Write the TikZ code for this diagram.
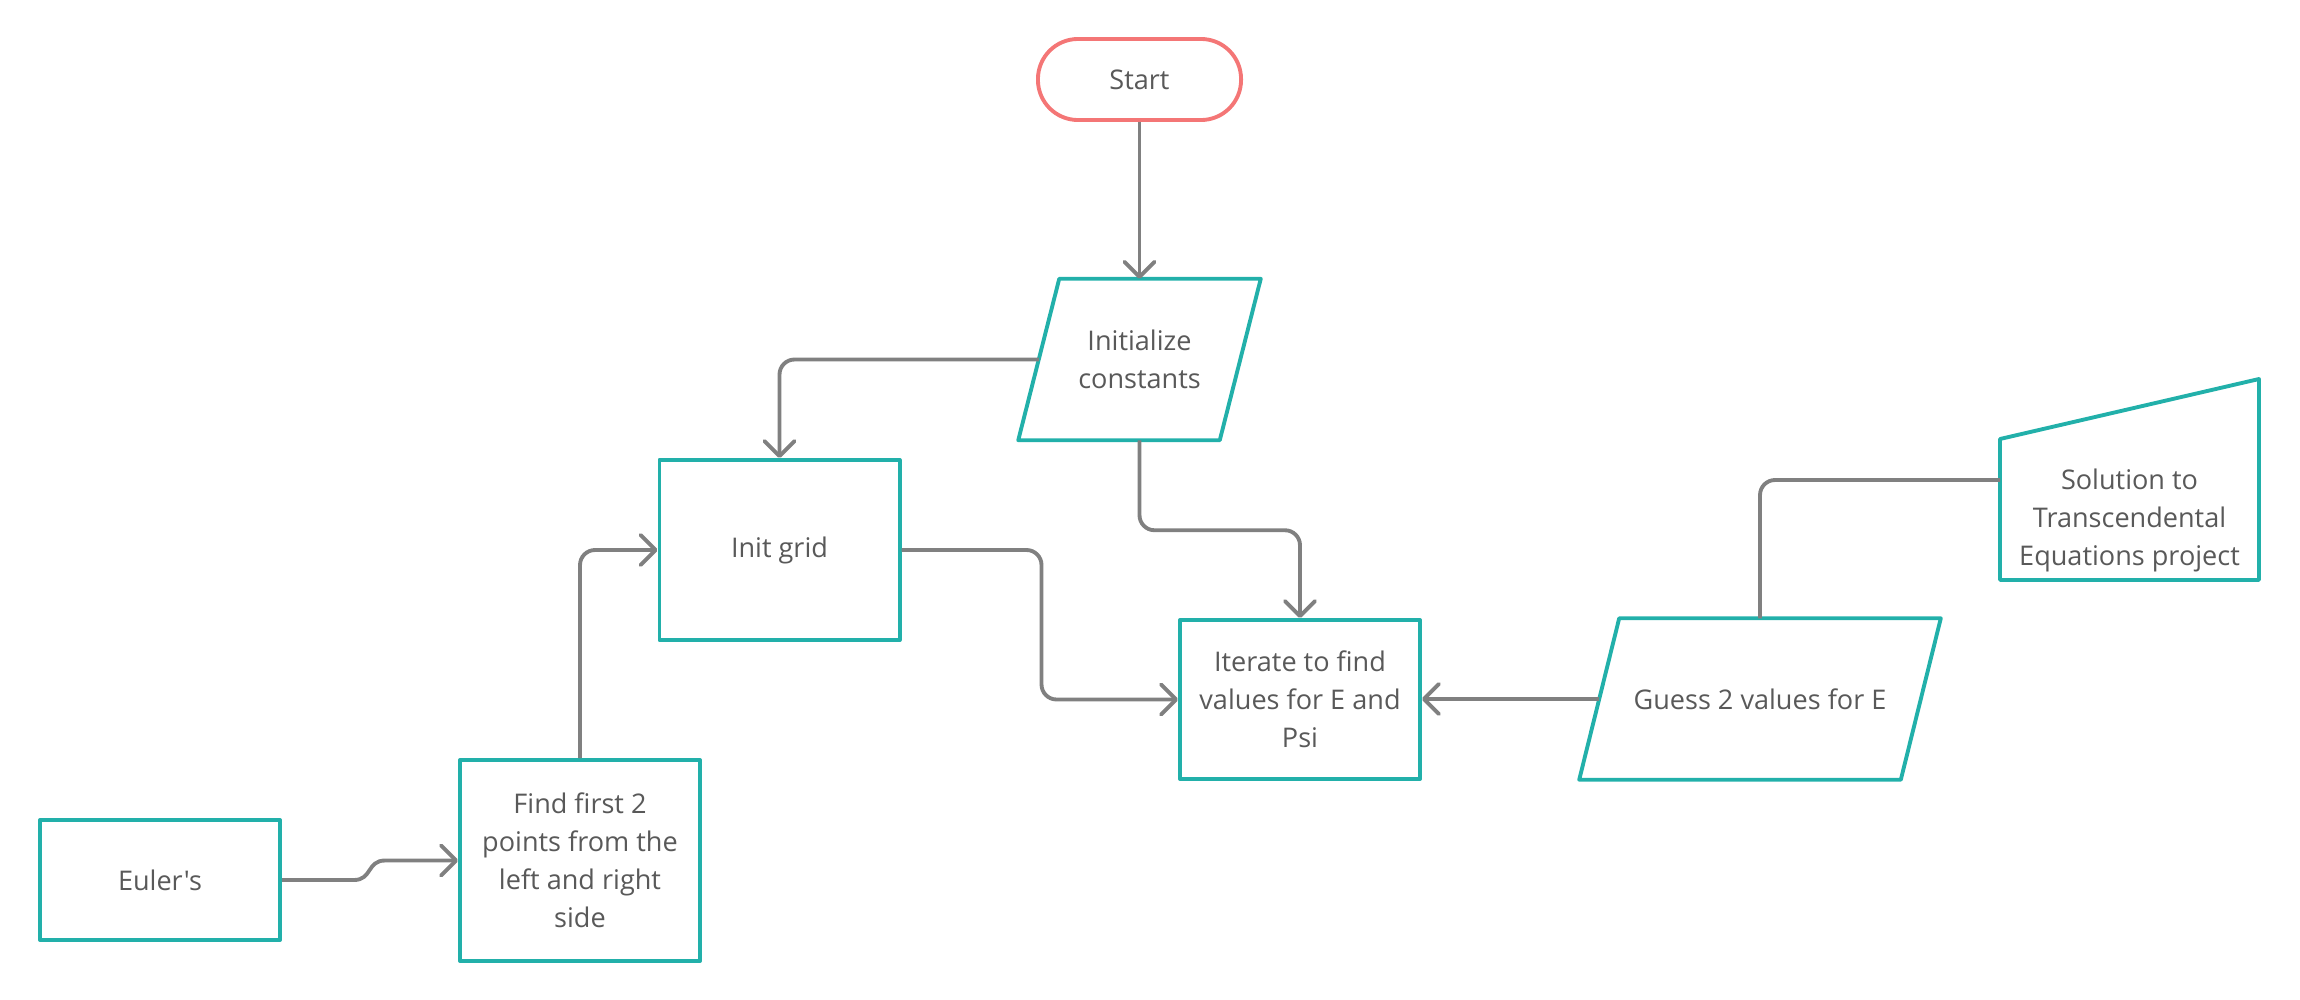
\documentclass[tikz,border=0pt]{standalone}
\usepackage{fontspec}
\newfontfamily\diagfont{Open Sans}
\usetikzlibrary{arrows.meta,calc}
\definecolor{tealc}{RGB}{34,176,170}
\definecolor{startc}{RGB}{244,118,118}
\definecolor{linec}{RGB}{128,128,128}
\definecolor{textc}{RGB}{89,89,89}

\begin{document}
\begin{tikzpicture}[x=0.01cm,y=-0.01cm,
  every node/.style={font=\diagfont\fontsize{7.7}{10.8}\selectfont, text=textc, align=center, inner sep=0pt},
  procbox/.style={draw=tealc, line width=1.1pt, line join=round},
  outline/.style={draw=tealc, line width=1.1pt, line join=round},
  conn/.style={draw=linec, line width=1.1pt, rounded corners=0.15cm},
  arr/.style={conn, -{Straight Barb[length=0.15cm,width=0.3cm,round]}},
]
\useasboundingbox (0,0) rectangle (2300,1000);

% terminal
\node[draw=startc, line width=1.1pt, rounded corners=0.4cm,
      minimum width=2.03cm, minimum height=0.81cm] (start) at (1139.5,79.5) {Start};

% input/output blocks (parallelograms drawn around the text nodes)
\node[minimum width=2cm, minimum height=1.6cm] (init) at (1139.5,359.5) {Initialize\\constants};
\draw[outline] ($(init.north west)+(20.5,0)$) -- ($(init.north east)+(20.5,0)$)
  -- ($(init.south east)+(-20.5,0)$) -- ($(init.south west)+(-20.5,0)$) -- cycle;

\node[minimum width=3.2cm, minimum height=1.6cm] (guess) at (1760,699) {Guess 2 values for E};
\draw[outline] ($(guess.north west)+(20,0)$) -- ($(guess.north east)+(20,0)$)
  -- ($(guess.south east)+(-20,0)$) -- ($(guess.south west)+(-20,0)$) -- cycle;

% manual input
\node (sol) at (2129.5,520) {Solution to\\Transcendental\\Equations project};
\draw[outline] (2000,439) -- (2259,379) -- (2259,580) -- (2000,580) -- cycle;
\coordinate (solin) at (2000,480);

% process boxes
\node[procbox, minimum width=2.4cm, minimum height=1.8cm] (grid) at (779.5,550) {Init grid};
\node[procbox, minimum width=2.4cm, minimum height=1.59cm] (iter) at (1300,699.5) {Iterate to find\\values for E and\\Psi};
\node[procbox, minimum width=2.4cm, minimum height=1.2cm] (eul) at (160,880) {Euler's};
\node[procbox, minimum width=2.4cm, minimum height=2.01cm] (find) at (580,860.5) {Find first 2\\points from the\\left and right\\side};

% connectors
\draw[arr] (start.south) -- (init.north);
\draw[arr] (init.west) -| (grid.north);
\draw[arr] (init.south) -- ++(0,90) -| (iter.north);
\draw[arr] (grid.east) -- ++(140,0) |- (iter.west);
\draw[arr] (guess.west) -- (guess.west -| iter.east);
\draw[conn] (guess.north) |- (solin);
\draw[arr] (find.north) |- (grid.west);
\draw[arr, rounded corners=0pt] (eul.east) -- ++(72,0)
  .. controls +(18,0) and +(-18,0) .. ($(find.west)+(-73,0)$) -- (find.west);
\end{tikzpicture}
\end{document}
